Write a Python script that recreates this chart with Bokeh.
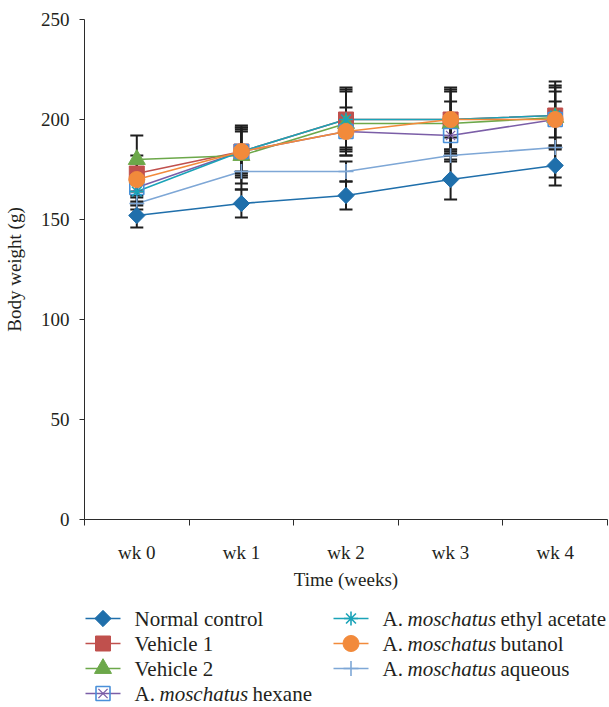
import math
from bokeh.plotting import figure
from bokeh.models import Range1d, FixedTicker, Label
from bokeh.layouts import column
from bokeh.embed import file_html
from bokeh.resources import INLINE

# ---------------- data ----------------
weeks = ["wk 0", "wk 1", "wk 2", "wk 3", "wk 4"]
y_ticks = [0, 50, 100, 150, 200, 250]

normal_control = [152, 158, 162, 170, 177]
normal_control_sd = [6, 7, 7, 10, 10]
vehicle_1 = [173, 184, 200, 200, 202]
vehicle_1_sd = [9, 13, 16, 16, 17]
vehicle_2 = [180, 182, 198, 198, 201]
vehicle_2_sd = [12, 14, 16, 16, 15]
hexane = [166, 184, 194, 192, 200]
hexane_sd = [7, 11, 8, 9, 14]
ethyl_acetate = [164, 184, 200, 200, 202]
ethyl_acetate_sd = [7, 12, 15, 15, 15]
butanol = [170, 184, 194, 200, 200]
butanol_sd = [8, 10, 12, 9, 9]
aqueous = [158, 174, 174, 182, 186]
aqueous_sd = [3, 9, 5, 3, 15]

series_labels = ["Normal control", "Vehicle 1", "Vehicle 2", "A. moschatus hexane",
                 "A. moschatus ethyl acetate", "A. moschatus butanol", "A. moschatus aqueous"]
x_label = "Time (weeks)"
y_label = "Body weight (g)"

# ---------------- styles ----------------
FONT = "Liberation Serif"
TXT = "#231f20"
AX = "#2b2b2b"
ERR = "#1e1e1e"

series = [
    # (values, sd, label, line color, marker kind, marker color)
    (normal_control, normal_control_sd, series_labels[0], "#1f6fab", "diamond", "#1f6fab"),
    (vehicle_1, vehicle_1_sd, series_labels[1], "#c0504d", "square", "#c0504d"),
    (vehicle_2, vehicle_2_sd, series_labels[2], "#6ca84a", "triangle", "#6ca84a"),
    (hexane, hexane_sd, series_labels[3], "#7b5ea7", "square_x", "#4a90d9"),
    (ethyl_acetate, ethyl_acetate_sd, series_labels[4], "#1aa3b8", "asterisk", "#1aa3b8"),
    (butanol, butanol_sd, series_labels[5], "#f28a3b", "circle", "#f28a3b"),
    (aqueous, aqueous_sd, series_labels[6], "#7ea7d6", "cross", "#7ea7d6"),
]
marker_order = [1, 2, 3, 4, 5, 6, 0]

# category centres on a numeric axis (category i occupies [i, i+1])
x_pos = [i + 0.5 for i in range(len(weeks))]


def draw_marker(fig, xs, ys, kind, color, line_color):
    if kind == "diamond":
        fig.scatter(xs, ys, marker="square", angle=math.pi / 4, size=11.5,
                    fill_color=color, line_color=color)
    elif kind == "square":
        fig.scatter(xs, ys, marker="square", size=15, fill_color=color, line_color=color)
    elif kind == "triangle":
        fig.scatter(xs, ys, marker="triangle", size=17, fill_color=color, line_color=color)
    elif kind == "square_x":
        fig.scatter(xs, ys, marker="square", size=14, fill_color=None,
                    line_color=color, line_width=1.6)
        fig.scatter(xs, ys, marker="x", size=13, line_color=line_color, line_width=1.3)
    elif kind == "asterisk":
        fig.scatter(xs, ys, marker="asterisk", size=14, line_color=color, line_width=1.6)
    elif kind == "circle":
        fig.scatter(xs, ys, marker="circle", size=16, fill_color=color, line_color=color)
    elif kind == "cross":
        fig.scatter(xs, ys, marker="cross", size=15, line_color=color, line_width=1.6)


W = 609
H1 = 596
H2 = 111
BL, BR = 84, 2

# ---------------- main chart ----------------
p = figure(x_range=Range1d(0, len(weeks)), y_range=Range1d(0, 250),
           width=W, height=H1, output_backend="svg", toolbar_location=None,
           min_border_left=BL, min_border_right=BR,
           min_border_top=19, min_border_bottom=H1 - 519)
p.outline_line_color = None
p.grid.grid_line_color = None
p.background_fill_color = "white"

# lines
for vals, sd, lab, lc, kind, mc in series:
    p.line(x_pos, vals, line_color=lc, line_width=1.6)

# error bars
for vals, sd, lab, lc, kind, mc in series:
    upper = [v + e for v, e in zip(vals, sd)]
    lower = [v - e for v, e in zip(vals, sd)]
    p.segment(x0=x_pos, y0=lower, x1=x_pos, y1=upper, line_color=ERR, line_width=2)
    p.scatter(x_pos, upper, marker="dash", size=13, line_color=ERR, line_width=1.8)
    p.scatter(x_pos, lower, marker="dash", size=13, line_color=ERR, line_width=1.8)

# markers
for i in marker_order:
    vals, sd, lab, lc, kind, mc = series[i]
    draw_marker(p, x_pos, vals, kind, mc, lc)

# y axis
ya = p.yaxis[0]
ya.ticker = FixedTicker(ticks=y_ticks)
ya.axis_label = y_label
ya.axis_label_text_font = FONT
ya.axis_label_text_font_size = "19px"
ya.axis_label_text_font_style = "normal"
ya.axis_label_text_color = TXT
ya.axis_label_standoff = 13
ya.major_label_text_font = FONT
ya.major_label_text_font_size = "19px"
ya.major_label_text_color = TXT
ya.major_label_standoff = 10
ya.major_tick_in = 0
ya.major_tick_out = 5
ya.minor_tick_line_color = None
ya.axis_line_color = AX
ya.major_tick_line_color = AX

# x axis: labels at category centres, ticks at category boundaries
xa = p.xaxis[0]
xa.ticker = FixedTicker(ticks=x_pos, minor_ticks=list(range(len(weeks) + 1)))
xa.major_label_overrides = {x: w for x, w in zip(x_pos, weeks)}
xa.major_tick_line_color = None
xa.major_tick_in = 0
xa.major_tick_out = 0
xa.minor_tick_in = 0
xa.minor_tick_out = 6
xa.minor_tick_line_color = AX
xa.axis_line_color = AX
xa.major_label_standoff = 16
xa.major_label_text_font = FONT
xa.major_label_text_font_size = "19px"
xa.major_label_text_color = TXT
xa.axis_label = x_label
xa.axis_label_standoff = 3
xa.axis_label_text_font = FONT
xa.axis_label_text_font_size = "19px"
xa.axis_label_text_font_style = "normal"
xa.axis_label_text_color = TXT

# ---------------- legend panel (coordinates = page pixels) ----------------
leg = figure(width=W, height=H2, x_range=Range1d(BL, W - BR), y_range=Range1d(H1 + H2, H1),
             output_backend="svg", toolbar_location=None,
             min_border_left=BL, min_border_right=BR, min_border_top=0, min_border_bottom=0,
             x_axis_location=None, y_axis_location=None)
leg.outline_line_color = None
leg.grid.grid_line_color = None

col_x = [85, 333]               # start of sample line
row_y = [618, 643, 668, 693]    # row centres
FS = 21
OFF_ITAL = 25                   # "A. " advance
OFF_REST = 118                  # "A. moschatus " advance


def add_text(x, y, s, style="normal"):
    leg.add_layout(Label(x=x, y=y, text=s, text_font=FONT, text_font_size=f"{FS}px",
                         text_font_style=style, text_baseline="middle",
                         text_align="left", text_color=TXT))


for idx, (vals, sd, lab, lc, kind, mc) in enumerate(series):
    c = 0 if idx < 4 else 1
    r = idx if idx < 4 else idx - 4
    x0 = col_x[c]
    y0 = row_y[r]
    leg.segment(x0=[x0], y0=[y0], x1=[x0 + 35], y1=[y0], line_color=lc, line_width=1.6)
    draw_marker(leg, [x0 + 17.5], [y0], kind, mc, lc)
    tx = x0 + 49
    if lab.startswith("A. moschatus"):
        add_text(tx, y0, "A.")
        add_text(tx + OFF_ITAL, y0, "moschatus", "italic")
        add_text(tx + OFF_REST, y0, lab[len("A. moschatus"):].strip())
    else:
        add_text(tx, y0, lab)

layout = column(p, leg)
open("out.html", "w").write(file_html(layout, INLINE))
